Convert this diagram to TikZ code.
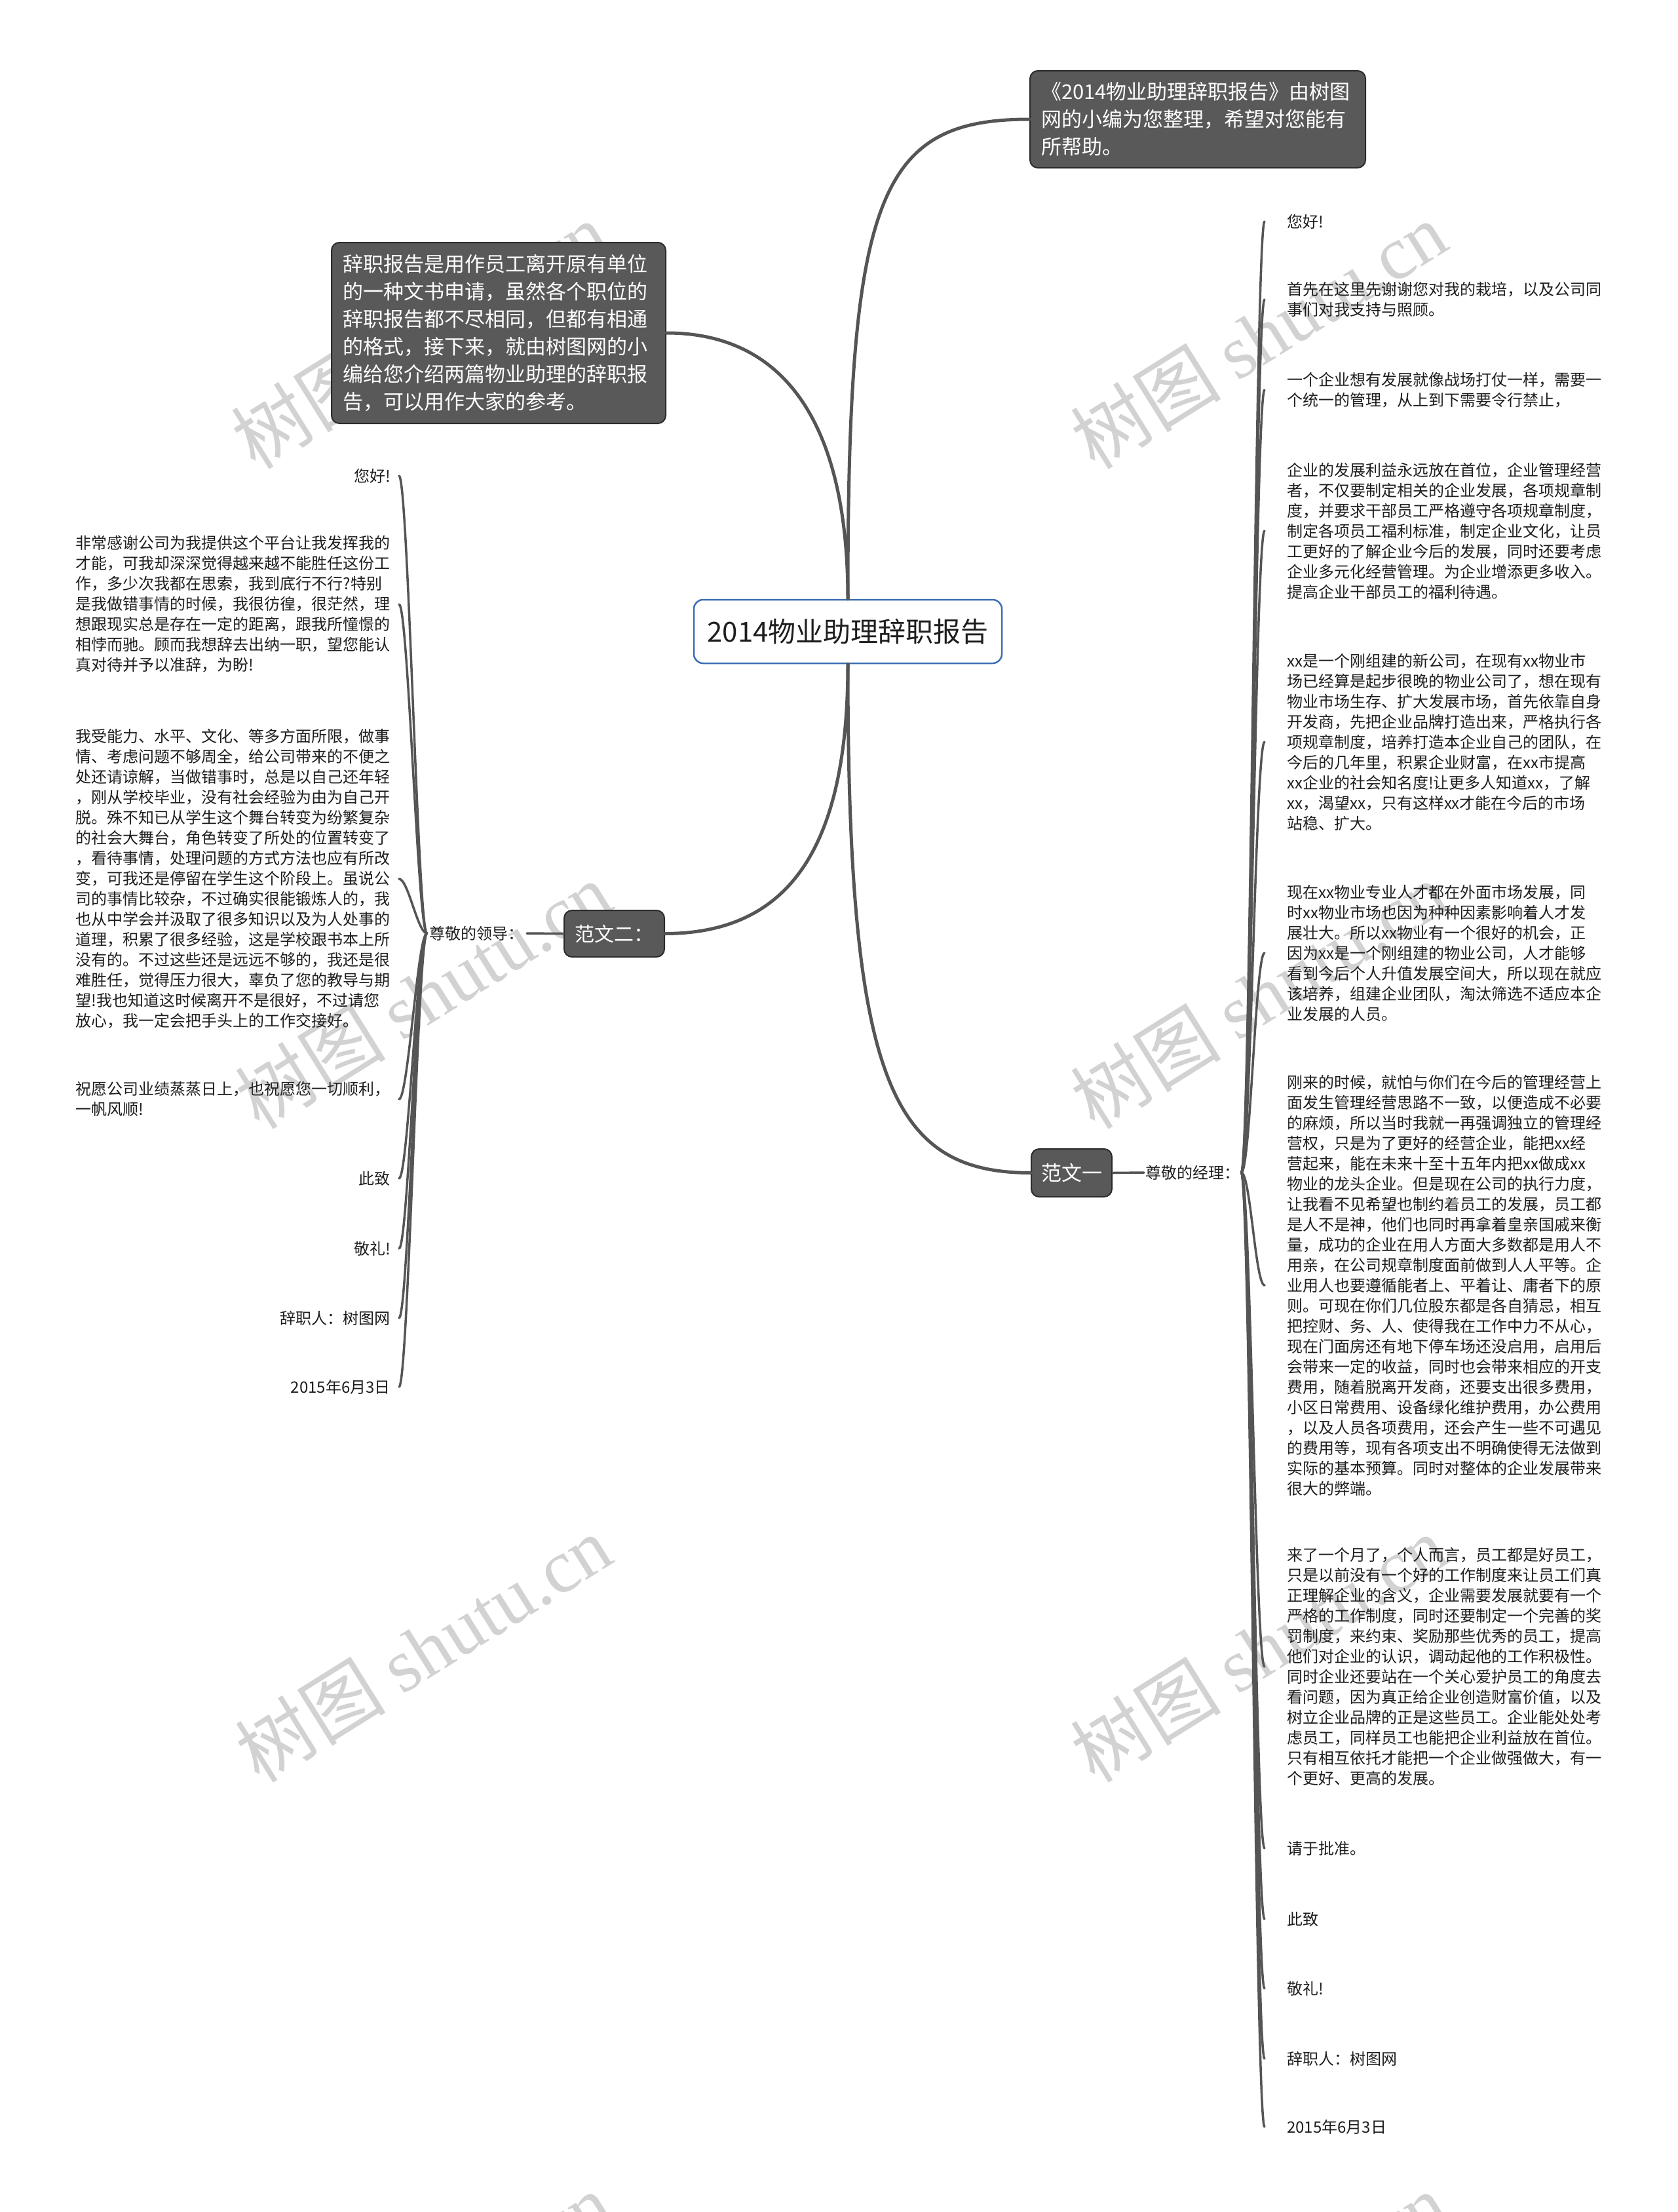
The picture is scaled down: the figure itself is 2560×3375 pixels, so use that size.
\documentclass[tikz,border=0pt]{standalone}
\usepackage{fontspec}
\setmainfont{Noto Sans CJK SC}
\newfontfamily\wmserif{Liberation Serif}
\usetikzlibrary{calc}
\definecolor{boxfill}{HTML}{595959}
\definecolor{boxline}{HTML}{2B2B2B}
\definecolor{linec}{HTML}{555555}
\definecolor{bluec}{HTML}{3C6EB4}
\definecolor{txt}{HTML}{1E1E1E}
\definecolor{wmc}{HTML}{D2D2D2}
\tikzset{
  rootbox/.style={draw=bluec, line width=2.5pt, rounded corners=14pt, fill=white,
    minimum width=470pt, minimum height=97pt, inner sep=0pt, text=txt,
    font=\fontsize{42}{50}\selectfont},
  darkbox/.style={draw=boxline, line width=2pt, fill=boxfill, rounded corners=12pt,
    text=white, font=\fontsize{31}{42}\selectfont, inner sep=0pt},
  leafL/.style={anchor=east, inner xsep=13pt, inner ysep=0pt, align=left, text=txt,
    font=\fontsize{24}{31}\selectfont},
  leafR/.style={anchor=west, inner xsep=34pt, inner ysep=0pt, align=left, text=txt,
    font=\fontsize{24}{31}\selectfont},
  lbl/.style={inner ysep=0pt, text=txt, font=\fontsize{24}{31}\selectfont},
  branch/.style={draw=linec, line width=5pt, line cap=round},
  twig/.style={draw=linec, line width=3.5pt, line cap=round},
  wmark/.style={text=wmc, rotate=32, inner sep=0pt,
    font=\fontsize{115}{125}\selectfont}
}
\begin{document}
\begin{tikzpicture}[x=1pt,y=-1pt]
\path[use as bounding box] (0,0) rectangle (2560,3375);
\clip (0,0) rectangle (2560,3375);
\fill[white] (0,0) rectangle (2560,3375);

% watermarks (beneath everything)
\foreach \wx/\wy [count=\i] in {640/511, 1921/511, 646/1518, 1921/1518, 646/2515, 1921/2515, 646/3518, 1921/3518}
  \node[wmark] (wm\i) at (\wx,\wy) {树图 {\wmserif shutu.cn}};

% main nodes
\node[rootbox] (root) at (1294,963.5) {2014物业助理辞职报告};
\node[darkbox, text width=478pt, align=left, inner xsep=17pt, minimum height=148pt] (intro) at (1828,182) {《2014物业助理辞职报告》由树图\\%
网的小编为您整理，希望对您能有\\%
所帮助。};
\node[darkbox, text width=476pt, align=left, inner xsep=17pt, minimum height=276pt] (desc) at (761,508) {辞职报告是用作员工离开原有单位\\%
的一种文书申请，虽然各个职位的\\%
辞职报告都不尽相同，但都有相通\\%
的格式，接下来，就由树图网的小\\%
编给您介绍两篇物业助理的辞职报\\%
告，可以用作大家的参考。};
\node[darkbox, minimum width=153pt, minimum height=71pt, font=\fontsize{30}{36}\selectfont] (f2) at (937.5,1424.5) {范文二：};
\node[darkbox, minimum width=123pt, minimum height=73pt] (f1) at (1635.5,1789.5) {范文一};

\node[lbl, anchor=east, inner xsep=4pt] (lead) at (804,1424) {尊敬的领导：};
\node[lbl, anchor=west, inner xsep=2pt] (mgr) at (1746,1789) {尊敬的经理：};

% main branches
\draw[branch] (root.north) .. controls (1294,300) and (1340,182) .. (intro.west);
\draw[branch] (root.north) .. controls (1294,650) and (1200,508) .. (desc.east);
\draw[branch] (root.south) .. controls (1294,1300) and (1200,1424) .. (f2.east);
\draw[branch] (root.south) .. controls (1294,1650) and (1360,1789) .. (f1.west);
\draw[twig] (f2.west) -- (lead.east);
\draw[twig] (f1.east) -- (mgr.west);

% left leaves (范文二)
\node[leafL] (l1) at (609,726) {您好!};
\node[leafL] (l2) at (609,922) {非常感谢公司为我提供这个平台让我发挥我的\\%
才能，可我却深深觉得越来越不能胜任这份工\\%
作，多少次我都在思索，我到底行不行?特别\\%
是我做错事情的时候，我很彷徨，很茫然，理\\%
想跟现实总是存在一定的距离，跟我所憧憬的\\%
相悖而驰。顾而我想辞去出纳一职，望您能认\\%
真对待并予以准辞，为盼!};
\node[leafL] (l3) at (609,1341) {我受能力、水平、文化、等多方面所限，做事\\%
情、考虑问题不够周全，给公司带来的不便之\\%
处还请谅解，当做错事时，总是以自己还年轻\\%
，刚从学校毕业，没有社会经验为由为自己开\\%
脱。殊不知已从学生这个舞台转变为纷繁复杂\\%
的社会大舞台，角色转变了所处的位置转变了\\%
，看待事情，处理问题的方式方法也应有所改\\%
变，可我还是停留在学生这个阶段上。虽说公\\%
司的事情比较杂，不过确实很能锻炼人的，我\\%
也从中学会并汲取了很多知识以及为人处事的\\%
道理，积累了很多经验，这是学校跟书本上所\\%
没有的。不过这些还是远远不够的，我还是很\\%
难胜任，觉得压力很大，辜负了您的教导与期\\%
望!我也知道这时候离开不是很好，不过请您\\%
放心，我一定会把手头上的工作交接好。};
\node[leafL] (l4) at (609,1677) {祝愿公司业绩蒸蒸日上，也祝愿您一切顺利，\\%
一帆风顺!};
\node[leafL] (l5) at (609,1798) {此致};
\node[leafL] (l6) at (609,1905) {敬礼!};
\node[leafL] (l7) at (609,2011) {辞职人：树图网};
\node[leafL] (l8) at (609,2116) {2015年6月3日};

\foreach \n in {l1,l2,l3,l4,l5,l6,l7,l8}
  \draw[twig] (lead.west) .. controls ($(lead.west)+(-14,0)$) and ($(\n.east)+(14,0)$) .. (\n.east);

% right leaves (范文一)
\node[leafR] (r1) at (1930,338) {您好!};
\node[leafR] (r2) at (1930,457) {首先在这里先谢谢您对我的栽培，以及公司同\\%
事们对我支持与照顾。};
\node[leafR] (r3) at (1930,595) {一个企业想有发展就像战场打仗一样，需要一\\%
个统一的管理，从上到下需要令行禁止，};
\node[leafR] (r4) at (1930,810) {企业的发展利益永远放在首位，企业管理经营\\%
者，不仅要制定相关的企业发展，各项规章制\\%
度，并要求干部员工严格遵守各项规章制度，\\%
制定各项员工福利标准，制定企业文化，让员\\%
工更好的了解企业今后的发展，同时还要考虑\\%
企业多元化经营管理。为企业增添更多收入。\\%
提高企业干部员工的福利待遇。};
\node[leafR] (r5) at (1930,1132) {xx是一个刚组建的新公司，在现有xx物业市\\%
场已经算是起步很晚的物业公司了，想在现有\\%
物业市场生存、扩大发展市场，首先依靠自身\\%
开发商，先把企业品牌打造出来，严格执行各\\%
项规章制度，培养打造本企业自己的团队，在\\%
今后的几年里，积累企业财富，在xx市提高\\%
xx企业的社会知名度!让更多人知道xx，了解\\%
xx，渴望xx，只有这样xx才能在今后的市场\\%
站稳、扩大。};
\node[leafR] (r6) at (1930,1454) {现在xx物业专业人才都在外面市场发展，同\\%
时xx物业市场也因为种种因素影响着人才发\\%
展壮大。所以xx物业有一个很好的机会，正\\%
因为xx是一个刚组建的物业公司，人才能够\\%
看到今后个人升值发展空间大，所以现在就应\\%
该培养，组建企业团队，淘汰筛选不适应本企\\%
业发展的人员。};
\node[leafR] (r7) at (1930,1961) {刚来的时候，就怕与你们在今后的管理经营上\\%
面发生管理经营思路不一致，以便造成不必要\\%
的麻烦，所以当时我就一再强调独立的管理经\\%
营权，只是为了更好的经营企业，能把xx经\\%
营起来，能在未来十至十五年内把xx做成xx\\%
物业的龙头企业。但是现在公司的执行力度，\\%
让我看不见希望也制约着员工的发展，员工都\\%
是人不是神，他们也同时再拿着皇亲国戚来衡\\%
量，成功的企业在用人方面大多数都是用人不\\%
用亲，在公司规章制度面前做到人人平等。企\\%
业用人也要遵循能者上、平着让、庸者下的原\\%
则。可现在你们几位股东都是各自猜忌，相互\\%
把控财、务、人、使得我在工作中力不从心，\\%
现在门面房还有地下停车场还没启用，启用后\\%
会带来一定的收益，同时也会带来相应的开支\\%
费用，随着脱离开发商，还要支出很多费用，\\%
小区日常费用、设备绿化维护费用，办公费用\\%
，以及人员各项费用，还会产生一些不可遇见\\%
的费用等，现有各项支出不明确使得无法做到\\%
实际的基本预算。同时对整体的企业发展带来\\%
很大的弊端。};
\node[leafR] (r8) at (1930,2543) {来了一个月了，个人而言，员工都是好员工，\\%
只是以前没有一个好的工作制度来让员工们真\\%
正理解企业的含义，企业需要发展就要有一个\\%
严格的工作制度，同时还要制定一个完善的奖\\%
罚制度，来约束、奖励那些优秀的员工，提高\\%
他们对企业的认识，调动起他的工作积极性。\\%
同时企业还要站在一个关心爱护员工的角度去\\%
看问题，因为真正给企业创造财富价值，以及\\%
树立企业品牌的正是这些员工。企业能处处考\\%
虑员工，同样员工也能把企业利益放在首位。\\%
只有相互依托才能把一个企业做强做大，有一\\%
个更好、更高的发展。};
\node[leafR] (r9) at (1930,2820) {请于批准。};
\node[leafR] (r10) at (1930,2928) {此致};
\node[leafR] (r11) at (1930,3034) {敬礼!};
\node[leafR] (r12) at (1930,3141) {辞职人：树图网};
\node[leafR] (r13) at (1930,3245) {2015年6月3日};

\foreach \n in {r1,r2,r3,r4,r5,r6,r7,r8,r9,r10,r11,r12,r13}
  \draw[twig] (mgr.east) .. controls ($(mgr.east)+(14,0)$) and ($(\n.west)+(-14,0)$) .. (\n.west);
\end{tikzpicture}
\end{document}
